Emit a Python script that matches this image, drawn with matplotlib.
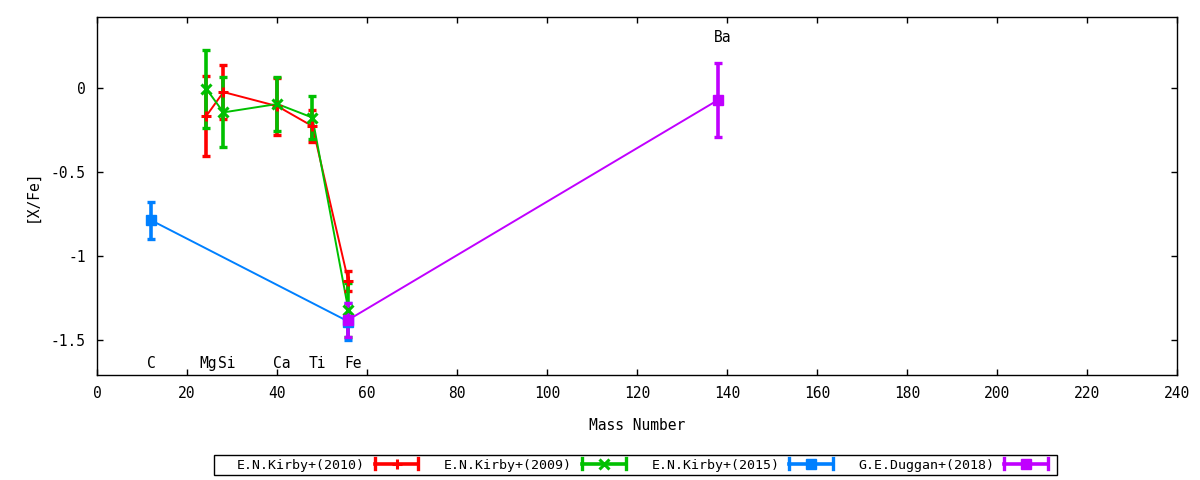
import matplotlib
matplotlib.use("Agg")
import matplotlib.pyplot as plt
from matplotlib.legend_handler import HandlerBase
from matplotlib.lines import Line2D
from matplotlib.patches import Rectangle

plt.rcParams['font.family'] = ['DejaVu Sans Mono']

# ---- data ----
mass_2010 = [24.3, 28.09, 40.08, 47.87, 55.85]
val_2010 = [-0.168, -0.026, -0.11, -0.229, -1.15]
err_2010 = [0.24, 0.16, 0.17, 0.094, 0.06]

mass_2009 = [24.3, 28.09, 40.08, 47.87, 55.85]
val_2009 = [-0.007, -0.147, -0.097, -0.178, -1.32]
err_2009 = [0.23, 0.208, 0.16, 0.13, 0.16]

mass_2015 = [12.01, 55.85]
val_2015 = [-0.788, -1.39]
err_2015 = [0.11, 0.11]

mass_2018 = [55.85, 137.9]
val_2018 = [-1.38, -0.075]
err_2018 = [0.10, 0.22]

series_names = ["E.N.Kirby+(2010)", "E.N.Kirby+(2009)", "E.N.Kirby+(2015)", "G.E.Duggan+(2018)"]
colors = ["#ff0000", "#00c000", "#0080ff", "#c000ff"]
markers = ["+", "x", "s", "s"]

elem_labels = ["C", "Mg", "Si", "Ca", "Ti", "Fe", "Ba"]
elem_label_x = [12.1, 24.6, 28.9, 41.0, 49.0, 57.0, 139.0]
elem_label_y = [-1.64, -1.64, -1.64, -1.64, -1.64, -1.64, 0.30]

xticks = list(range(0, 241, 20))
yticks = [0, -0.5, -1, -1.5]

# ---- figure ----
fig = plt.figure(figsize=(12, 4.8), dpi=100)
ax = fig.add_axes([97/1200, 1-375/480, (1177-97)/1200, (375-17)/480])

all_data = [(mass_2010, val_2010, err_2010), (mass_2009, val_2009, err_2009),
            (mass_2015, val_2015, err_2015), (mass_2018, val_2018, err_2018)]

handles = []
for (x, y, e), c, m, name in zip(all_data, colors, markers, series_names):
    ax.plot(x, y, color=c, lw=1.4, zorder=2)
    ax.errorbar(x, y, yerr=e, fmt='none', ecolor=c, elinewidth=2.6,
                capsize=3, capthick=2.4, zorder=3)
    ms = 7
    mew = 2.2 if m != 's' else 1
    ax.plot(x, y, linestyle='none', marker=m, color=c, markersize=ms,
            markeredgewidth=mew, zorder=4)
    handles.append(Line2D([], [], color=c, marker=m, markersize=ms,
                          markeredgewidth=mew, lw=2.6))

for t, xx, yy in zip(elem_labels, elem_label_x, elem_label_y):
    ax.text(xx, yy, t, ha='center', va='center', fontsize=10.5)

ax.set_xlim(0, 240)
ax.set_ylim(-1.708, 0.42)
ax.set_xticks(xticks)
ax.set_xticklabels([str(v) for v in xticks])
ax.set_yticks(yticks)
ax.set_yticklabels(["0", "-0.5", "-1", "-1.5"])
ax.tick_params(direction='in', length=4, width=1, top=True, right=True,
               labelsize=10.5, pad=8)
for s in ax.spines.values():
    s.set_linewidth(1)
ax.set_xlabel("Mass Number", fontsize=10.5, labelpad=12)
ax.set_ylabel("[X/Fe]", fontsize=10.5, labelpad=8)


class GPHandler(HandlerBase):
    def create_artists(self, legend, orig, xdescent, ydescent, width, height,
                       fontsize, trans):
        c = orig.get_color()
        yc = height / 2 - ydescent
        x0, x1 = -xdescent, -xdescent + width
        line = Line2D([x0, x1], [yc, yc], color=c, lw=2.6, transform=trans)
        cap1 = Line2D([x0, x0], [yc - 4, yc + 4], color=c, lw=2.4, transform=trans)
        cap2 = Line2D([x1, x1], [yc - 4, yc + 4], color=c, lw=2.4, transform=trans)
        mk = Line2D([(x0 + x1) / 2], [yc], color=c, marker=orig.get_marker(),
                    markersize=orig.get_markersize(),
                    markeredgewidth=orig.get_markeredgewidth(), transform=trans)
        return [line, cap1, cap2, mk]


leg = fig.legend(handles, series_names, loc='center left',
                 bbox_to_anchor=(237/1200, 1-465/480), ncol=4,
                 markerfirst=False, handler_map={Line2D: GPHandler()},
                 fontsize=9.5, handlelength=3.3, columnspacing=1.95,
                 handletextpad=0.75, borderpad=0.0, borderaxespad=0.0,
                 frameon=False)

fig.add_artist(Rectangle((214/1200, 1-475/480), (1057-214)/1200, 20/480,
                         transform=fig.transFigure, fill=False,
                         edgecolor='black', linewidth=1))

fig.savefig("out.png", dpi=100)
